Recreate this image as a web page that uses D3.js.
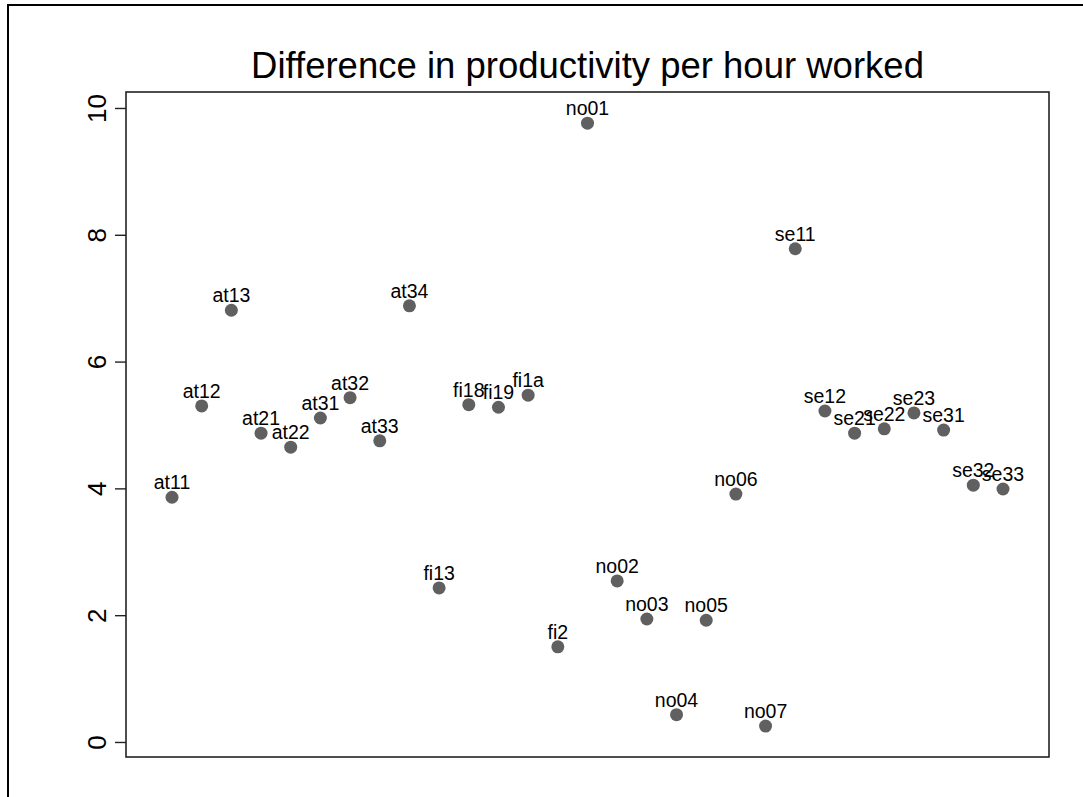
<!DOCTYPE html>
<html>
<head>
<meta charset="utf-8">
<script src="https://cdn.jsdelivr.net/npm/d3@7"></script>
<style>
  body { margin: 0; background: #fff; }
  text { font-family: "Liberation Sans", Arial, sans-serif; }
</style>
</head>
<body>
<svg id="chart" width="1083" height="797"></svg>
<script>
// observations, in plotting order
const labels = ["at11", "at12", "at13", "at21", "at22", "at31", "at32", "at33", "at34",
  "fi13", "fi18", "fi19", "fi1a", "fi2",
  "no01", "no02", "no03", "no04", "no05", "no06", "no07",
  "se11", "se12", "se21", "se22", "se23", "se31", "se32", "se33"];
const diffs = [3.86, 5.30, 6.81, 4.87, 4.65, 5.11, 5.43, 4.75, 6.88,
  2.43, 5.32, 5.28, 5.47, 1.50,
  9.76, 2.54, 1.94, 0.43, 1.92, 3.91, 0.25,
  7.78, 5.22, 4.87, 4.94, 5.19, 4.92, 4.05, 3.99];
const yTicks = [0, 2, 4, 6, 8, 10];
const title = "Difference in productivity per hour worked";

const svg = d3.select("#chart");
const [pLeft, pRight, pTop, pBottom] = [126, 1049, 92, 757];

const x = d3.scaleLinear().domain([-0.55, 30.55]).range([pLeft, pRight]);
const y = d3.scaleLinear().domain([-0.237, 10.252]).range([pBottom, pTop]);

// outer frame (runs off the right and bottom edge)
svg.append("rect")
  .attr("x", 8).attr("y", 5)
  .attr("width", 1100).attr("height", 820)
  .attr("fill", "none").attr("stroke", "#000").attr("stroke-width", 2);

svg.append("text")
  .attr("x", (pLeft + pRight) / 2).attr("y", 78)
  .attr("text-anchor", "middle")
  .attr("font-size", 36.5)
  .text(title);

// plot box
svg.append("rect")
  .attr("x", pLeft).attr("y", pTop)
  .attr("width", pRight - pLeft).attr("height", pBottom - pTop)
  .attr("fill", "none").attr("stroke", "#222").attr("stroke-width", 1.6);

// y axis
const yAxis = d3.axisLeft(y).tickValues(yTicks).tickSize(11).tickFormat(d3.format("d"));
const ga = svg.append("g").attr("transform", `translate(${pLeft},0)`).call(yAxis);
ga.select(".domain").remove();
ga.selectAll(".tick line").attr("stroke", "#222").attr("stroke-width", 1.4);
ga.selectAll(".tick text")
  .attr("x", null).attr("dy", null)
  .attr("transform", "translate(-20,0) rotate(-90)")
  .attr("text-anchor", "middle")
  .attr("font-size", 26)
  .attr("fill", "#000");

const idx = labels.map((d, i) => i + 1);

svg.append("g").selectAll("circle")
  .data(idx)
  .join("circle")
  .attr("cx", i => x(i))
  .attr("cy", i => y(diffs[i - 1]))
  .attr("r", 6.5)
  .attr("fill", "#606060");

svg.append("g").selectAll("text")
  .data(idx)
  .join("text")
  .attr("x", i => x(i))
  .attr("y", i => y(diffs[i - 1]) - 8)
  .attr("text-anchor", "middle")
  .attr("font-size", 19.5)
  .text(i => labels[i - 1]);
</script>
</body>
</html>
